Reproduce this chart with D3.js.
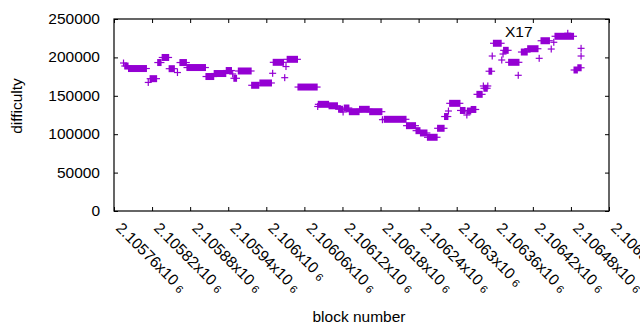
<!DOCTYPE html>
<html>
  <head>
    <meta charset="utf-8">
    <title>difficulty by block number</title>
    <script src="https://d3js.org/d3.v7.min.js"></script>
    <style>
      body { margin: 0; background: #fff; }
      #chart { width: 640px; height: 330px; display: block; }
      text { font-family: "Liberation Sans", Arial, sans-serif; font-size: 15.5px; fill: #000; }
    </style>
  </head>
  <body>
    <svg id="chart" width="640" height="330"></svg>
    <script>
      // runs of blocks sharing one difficulty (single blocks have from == to)
      var blockFrom = [2105775, 2105777, 2105783, 2105814, 2105817, 2105829, 2105836, 2105847, 2105860, 2105864,
        2105875, 2105905, 2105918, 2105937, 2105947, 2105949, 2105956, 2105977, 2105990, 2106010,
        2106011, 2106029, 2106031, 2106033, 2106050, 2106081, 2106082, 2106099, 2106114, 2106121,
        2106123, 2106131, 2106147, 2106163, 2106183, 2106186, 2106221, 2106236, 2106243, 2106254,
        2106270, 2106281, 2106287, 2106289, 2106306, 2106316, 2106317, 2106323, 2106332, 2106342,
        2106343, 2106349, 2106351, 2106356, 2106358, 2106371, 2106373, 2106374, 2106382, 2106397,
        2106402, 2106412, 2106430, 2106433, 2106449, 2106453, 2106455, 2106475, 2106485, 2106491,
        2106496, 2106496];
      var blockTo = [2105775, 2105782, 2105811, 2105814, 2105827, 2105834, 2105846, 2105855, 2105860, 2105874,
        2105904, 2105917, 2105936, 2105945, 2105947, 2105953, 2105976, 2105988, 2106008, 2106010,
        2106027, 2106029, 2106031, 2106049, 2106080, 2106081, 2106098, 2106112, 2106120, 2106121,
        2106130, 2106146, 2106162, 2106182, 2106183, 2106220, 2106235, 2106242, 2106253, 2106269,
        2106280, 2106286, 2106287, 2106305, 2106313, 2106316, 2106322, 2106330, 2106340, 2106342,
        2106348, 2106349, 2106355, 2106356, 2106370, 2106371, 2106373, 2106381, 2106398, 2106397,
        2106411, 2106428, 2106430, 2106446, 2106449, 2106453, 2106484, 2106475, 2106490, 2106496,
        2106496, 2106496];
      var difficulty = [192700, 188800, 185500, 167400, 172300, 193300, 199900, 185300, 180300, 193300,
        186800, 175100, 179000, 182900, 178400, 172800, 182300, 163700, 166700, 179300,
        193600, 173600, 188100, 197500, 161400, 136100, 138900, 137000, 132500, 128900,
        134100, 129300, 132400, 129300, 118900, 119400, 111100, 104600, 101600, 96000,
        107700, 123000, 130200, 140200, 130900, 125000, 130200, 132200, 151900, 162800,
        159800, 162800, 182000, 201800, 218400, 196600, 204400, 209200, 193600, 176700,
        207000, 211300, 198800, 221700, 210900, 219700, 227500, 231400, 183600, 186500,
        211800, 201800];
      var xTicks = [2105760, 2105820, 2105880, 2105940, 2106000, 2106060, 2106120, 2106180, 2106240, 2106300, 2106360, 2106420, 2106480, 2106540];
      var xTickLabels = ["2.10576", "2.10582", "2.10588", "2.10594", "2.106", "2.10606", "2.10612", "2.10618", "2.10624", "2.1063", "2.10636", "2.10642", "2.10648", "2.10654"];
      var yTicks = [0, 50000, 100000, 150000, 200000, 250000];

      var margin = { top: 19, right: 31, bottom: 119, left: 114 };
      var width = 640, height = 330;
      var purple = "#9400d3";
      var svg = d3.select("#chart");

      var x = d3.scaleLinear()
        .domain([2105760, 2106540])
        .range([margin.left, width - margin.right]);
      var y = d3.scaleLinear()
        .domain([0, 250000])
        .range([height - margin.bottom, margin.top]);

      var runs = blockFrom.map(function(d, i) {
        return { from: d, to: blockTo[i], value: difficulty[i] };
      });

      // points: a "+" per block, runs overlap into solid bars
      var pts = svg.append("g").attr("id", "points");
      pts.selectAll("rect")
        .data(runs)
        .enter().append("rect")
          .attr("x", function(d) { return x(d.from) - 0.6; })
          .attr("width", function(d) { return x(d.to) - x(d.from) + 1.2; })
          .attr("y", function(d) { return y(d.value) - 3.5; })
          .attr("height", 7)
          .attr("fill", purple);
      pts.selectAll("line")
        .data(runs)
        .enter().append("line")
          .attr("x1", function(d) { return x(d.from) - 3.5; })
          .attr("x2", function(d) { return x(d.to) + 3.5; })
          .attr("y1", function(d) { return y(d.value); })
          .attr("y2", function(d) { return y(d.value); })
          .attr("stroke", purple)
          .attr("stroke-width", 1.2);

      // axes, mirrored on all four sides like gnuplot
      var x0 = margin.left, x1 = width - margin.right;
      var y0 = height - margin.bottom, y1 = margin.top;
      var axes = svg.append("g").attr("id", "axes");
      axes.append("g")
        .attr("transform", "translate(0," + y0 + ")")
        .call(d3.axisTop(x).tickValues(xTicks).tickSize(4).tickFormat(""));
      axes.append("g")
        .attr("transform", "translate(0," + y1 + ")")
        .call(d3.axisBottom(x).tickValues(xTicks).tickSize(4).tickFormat(""));
      axes.append("g")
        .attr("transform", "translate(" + x0 + ",0)")
        .call(d3.axisRight(y).tickValues(yTicks).tickSize(4).tickFormat(""));
      axes.append("g")
        .attr("transform", "translate(" + x1 + ",0)")
        .call(d3.axisLeft(y).tickValues(yTicks).tickSize(4).tickFormat(""));
      axes.selectAll(".domain").remove();
      axes.selectAll(".tick line").attr("stroke", "#000").attr("stroke-width", 1);
      axes.append("rect")
        .attr("x", x0).attr("y", y1)
        .attr("width", x1 - x0).attr("height", y0 - y1)
        .attr("fill", "none").attr("stroke", "#000").attr("stroke-width", 1.2);

      // y tick labels
      svg.append("g").selectAll("text")
        .data(yTicks)
        .enter().append("text")
          .attr("x", 100)
          .attr("y", function(d) { return y(d) + 5; })
          .attr("text-anchor", "end")
          .text(function(d) { return d; });

      // rotated x tick labels (the last one runs off the edge, as in gnuplot)
      var xl = svg.append("g").selectAll("text")
        .data(xTicks)
        .enter().append("text")
          .attr("transform", function(d) { return "translate(" + (x(d) + 1) + "," + (y0 + 18) + ") rotate(45)"; });
      xl.append("tspan").text(function(d, i) { return xTickLabels[i] + "x10"; });
      xl.append("tspan")
        .attr("dx", 4)
        .attr("dy", 1)
        .style("font-size", "11px")
        .text("6");

      // titles
      svg.append("text")
        .attr("transform", "translate(22,106) rotate(-90)")
        .attr("text-anchor", "middle")
        .text("difficulty");
      svg.append("text")
        .attr("x", 359).attr("y", 322)
        .attr("text-anchor", "middle")
        .text("block number");
      svg.append("text")
        .attr("x", 505).attr("y", 37)
        .text("X17");
    </script>
  </body>
</html>
